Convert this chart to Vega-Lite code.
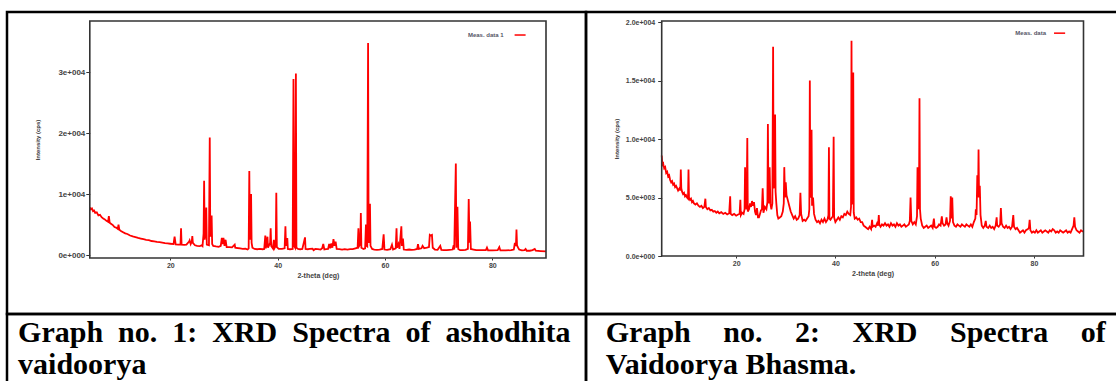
{
  "$schema": "https://vega.github.io/schema/vega-lite/v6.json",
  "background": "white",
  "padding": {"left": 5, "top": 10, "right": 0, "bottom": 0},
  "bounds": "flush",
  "align": "each",
  "spacing": 0,
  "columns": 2,
  "datasets": {
    "raw": [
      {"t":5.0,"i":7800},{"t":5.2,"i":7500},{"t":5.4,"i":7650},{"t":5.6,"i":7200},{"t":5.8,"i":7300},{"t":6.0,"i":6900},{"t":6.3,"i":7000},{"t":6.6,"i":6500},{"t":6.9,"i":6600},{"t":7.2,"i":6200},{"t":7.5,"i":6000},{"t":7.8,"i":5850},{"t":8.1,"i":5600},{"t":8.4,"i":5450},{"t":8.55,"i":6400},{"t":8.7,"i":5300},{"t":9.0,"i":5100},{"t":9.3,"i":4900},{"t":9.6,"i":4600},{"t":9.9,"i":4500},{"t":10.2,"i":4300},{"t":10.35,"i":5000},{"t":10.5,"i":4150},{"t":10.8,"i":3950},{"t":11.2,"i":3750},{"t":11.6,"i":3550},{"t":12.0,"i":3450},{"t":12.5,"i":3200},{"t":13.0,"i":3050},{"t":13.5,"i":2950},{"t":14.0,"i":2800},{"t":14.5,"i":2700},{"t":15.0,"i":2600},{"t":15.5,"i":2500},{"t":16.0,"i":2450},{"t":16.5,"i":2300},{"t":17.0,"i":2250},{"t":17.5,"i":2150},{"t":18.0,"i":2100},{"t":18.5,"i":2050},{"t":19.0,"i":1950},{"t":19.5,"i":1900},{"t":20.0,"i":1850},{"t":20.6,"i":1800},{"t":20.8,"i":3000},{"t":21.0,"i":1750},{"t":21.5,"i":1700},{"t":21.9,"i":1750},{"t":22.0,"i":4400},{"t":22.1,"i":1700},{"t":22.6,"i":1650},{"t":23.0,"i":1700},{"t":23.5,"i":2200},{"t":23.6,"i":2400},{"t":23.8,"i":1800},{"t":24.0,"i":2200},{"t":24.1,"i":3100},{"t":24.2,"i":2000},{"t":24.6,"i":1600},{"t":25.0,"i":1500},{"t":25.5,"i":1450},{"t":25.8,"i":1600},{"t":26.0,"i":1450},{"t":26.2,"i":3500},{"t":26.3,"i":12200},{"t":26.4,"i":2500},{"t":26.6,"i":4200},{"t":26.7,"i":7800},{"t":26.8,"i":1700},{"t":27.2,"i":1600},{"t":27.35,"i":19300},{"t":27.45,"i":3000},{"t":27.6,"i":4000},{"t":27.7,"i":6500},{"t":27.8,"i":1800},{"t":28.0,"i":1500},{"t":28.5,"i":1400},{"t":29.0,"i":1350},{"t":29.4,"i":1500},{"t":29.6,"i":2800},{"t":29.7,"i":1800},{"t":29.9,"i":2800},{"t":30.1,"i":1500},{"t":30.3,"i":2500},{"t":30.5,"i":1300},{"t":31.0,"i":1300},{"t":31.5,"i":1250},{"t":32.0,"i":1700},{"t":32.1,"i":1200},{"t":32.5,"i":1150},{"t":33.0,"i":1100},{"t":33.5,"i":1000},{"t":34.0,"i":1050},{"t":34.4,"i":900},{"t":34.6,"i":1100},{"t":34.72,"i":13800},{"t":34.82,"i":2500},{"t":34.95,"i":5000},{"t":35.05,"i":10000},{"t":35.15,"i":2000},{"t":35.3,"i":1200},{"t":35.7,"i":1000},{"t":36.2,"i":950},{"t":36.7,"i":1000},{"t":37.2,"i":950},{"t":37.5,"i":1000},{"t":37.7,"i":3200},{"t":37.8,"i":1100},{"t":38.1,"i":3000},{"t":38.2,"i":1200},{"t":38.6,"i":2000},{"t":38.7,"i":4400},{"t":38.8,"i":1500},{"t":39.1,"i":1100},{"t":39.3,"i":2500},{"t":39.4,"i":1100},{"t":39.65,"i":1500},{"t":39.75,"i":10200},{"t":39.85,"i":1300},{"t":40.2,"i":1000},{"t":40.8,"i":1000},{"t":41.3,"i":1100},{"t":41.45,"i":4700},{"t":41.55,"i":1500},{"t":41.8,"i":2800},{"t":41.9,"i":1000},{"t":42.3,"i":950},{"t":42.8,"i":1000},{"t":42.95,"i":28900},{"t":43.05,"i":1500},{"t":43.25,"i":1200},{"t":43.4,"i":29800},{"t":43.5,"i":1200},{"t":43.8,"i":1000},{"t":44.2,"i":950},{"t":44.6,"i":1000},{"t":45.1,"i":2900},{"t":45.2,"i":1000},{"t":45.6,"i":950},{"t":46.0,"i":1000},{"t":46.5,"i":1050},{"t":46.7,"i":800},{"t":47.0,"i":1000},{"t":47.5,"i":950},{"t":48.0,"i":900},{"t":48.3,"i":1100},{"t":48.5,"i":1800},{"t":48.7,"i":900},{"t":49.0,"i":950},{"t":49.4,"i":1000},{"t":49.6,"i":1800},{"t":49.8,"i":1100},{"t":50.0,"i":1900},{"t":50.2,"i":1200},{"t":50.4,"i":2600},{"t":50.6,"i":1500},{"t":50.8,"i":2200},{"t":51.0,"i":1000},{"t":51.5,"i":950},{"t":52.0,"i":900},{"t":52.5,"i":950},{"t":53.0,"i":900},{"t":53.5,"i":950},{"t":54.0,"i":950},{"t":54.5,"i":1100},{"t":54.9,"i":1200},{"t":55.05,"i":4400},{"t":55.2,"i":1500},{"t":55.4,"i":1800},{"t":55.5,"i":6900},{"t":55.6,"i":1200},{"t":56.0,"i":1000},{"t":56.3,"i":1100},{"t":56.45,"i":5000},{"t":56.55,"i":1500},{"t":56.7,"i":1400},{"t":56.85,"i":34800},{"t":56.95,"i":2000},{"t":57.1,"i":3000},{"t":57.2,"i":8400},{"t":57.3,"i":1500},{"t":57.6,"i":1000},{"t":58.0,"i":900},{"t":58.5,"i":850},{"t":59.0,"i":900},{"t":59.5,"i":1000},{"t":59.75,"i":3400},{"t":59.9,"i":900},{"t":60.4,"i":850},{"t":61.0,"i":950},{"t":61.3,"i":1700},{"t":61.5,"i":900},{"t":62.0,"i":1100},{"t":62.15,"i":4400},{"t":62.25,"i":1200},{"t":62.5,"i":1800},{"t":62.7,"i":1000},{"t":63.05,"i":4700},{"t":63.15,"i":1500},{"t":63.35,"i":2700},{"t":63.5,"i":900},{"t":64.0,"i":850},{"t":64.5,"i":900},{"t":65.0,"i":850},{"t":65.5,"i":900},{"t":66.0,"i":1000},{"t":66.15,"i":1800},{"t":66.3,"i":1000},{"t":66.8,"i":1100},{"t":67.0,"i":1500},{"t":67.3,"i":1100},{"t":67.8,"i":1200},{"t":68.2,"i":1300},{"t":68.35,"i":3300},{"t":68.5,"i":3200},{"t":68.75,"i":3300},{"t":68.9,"i":1200},{"t":69.3,"i":900},{"t":69.8,"i":850},{"t":70.3,"i":1500},{"t":70.5,"i":850},{"t":71.0,"i":800},{"t":71.5,"i":800},{"t":72.0,"i":850},{"t":72.6,"i":900},{"t":72.8,"i":1600},{"t":72.9,"i":900},{"t":73.2,"i":15000},{"t":73.3,"i":1200},{"t":73.5,"i":7900},{"t":73.65,"i":1000},{"t":74.0,"i":800},{"t":74.5,"i":800},{"t":75.0,"i":850},{"t":75.45,"i":1000},{"t":75.6,"i":9200},{"t":75.75,"i":2000},{"t":75.85,"i":5500},{"t":76.0,"i":1000},{"t":76.5,"i":900},{"t":77.0,"i":800},{"t":77.5,"i":800},{"t":78.0,"i":800},{"t":78.8,"i":800},{"t":79.0,"i":1200},{"t":79.2,"i":750},{"t":80.0,"i":750},{"t":81.0,"i":800},{"t":81.3,"i":1300},{"t":81.5,"i":750},{"t":82.5,"i":750},{"t":83.5,"i":800},{"t":84.0,"i":900},{"t":84.2,"i":2000},{"t":84.4,"i":1500},{"t":84.5,"i":4200},{"t":84.6,"i":1600},{"t":84.8,"i":1200},{"t":85.0,"i":900},{"t":85.5,"i":750},{"t":86.0,"i":800},{"t":86.2,"i":1000},{"t":86.4,"i":700},{"t":87.0,"i":700},{"t":87.5,"i":800},{"t":87.9,"i":1000},{"t":88.1,"i":700},{"t":89.0,"i":650},{"t":90.0,"i":600}
    ],
    "bhasma": [
      {"t":5.0,"i":8600},{"t":5.15,"i":7800},{"t":5.3,"i":7900},{"t":5.5,"i":7500},{"t":5.7,"i":7600},{"t":5.9,"i":7100},{"t":6.1,"i":7200},{"t":6.3,"i":6800},{"t":6.5,"i":6900},{"t":6.7,"i":6500},{"t":6.9,"i":6300},{"t":7.1,"i":6400},{"t":7.3,"i":6100},{"t":7.5,"i":6200},{"t":7.7,"i":5900},{"t":7.9,"i":6000},{"t":8.1,"i":5800},{"t":8.3,"i":5600},{"t":8.6,"i":5800},{"t":8.75,"i":5600},{"t":8.85,"i":7400},{"t":8.95,"i":5800},{"t":9.1,"i":5500},{"t":9.3,"i":5300},{"t":9.5,"i":5400},{"t":9.7,"i":5100},{"t":9.9,"i":5200},{"t":10.1,"i":5000},{"t":10.3,"i":4900},{"t":10.4,"i":7400},{"t":10.5,"i":5000},{"t":10.7,"i":4800},{"t":10.9,"i":4900},{"t":11.1,"i":4600},{"t":11.3,"i":4700},{"t":11.5,"i":4500},{"t":11.8,"i":4400},{"t":12.1,"i":4500},{"t":12.4,"i":4300},{"t":12.7,"i":4200},{"t":13.0,"i":4300},{"t":13.3,"i":4100},{"t":13.6,"i":4200},{"t":13.8,"i":4900},{"t":13.9,"i":4200},{"t":14.2,"i":4000},{"t":14.5,"i":4100},{"t":14.8,"i":3900},{"t":15.1,"i":3950},{"t":15.4,"i":3800},{"t":15.7,"i":3850},{"t":16.0,"i":3700},{"t":16.3,"i":3800},{"t":16.6,"i":3650},{"t":17.0,"i":3750},{"t":17.4,"i":3600},{"t":17.8,"i":3700},{"t":18.2,"i":3550},{"t":18.6,"i":3650},{"t":18.8,"i":5100},{"t":18.9,"i":3600},{"t":19.2,"i":3500},{"t":19.6,"i":3600},{"t":20.0,"i":3450},{"t":20.4,"i":3550},{"t":20.7,"i":3600},{"t":20.85,"i":4800},{"t":20.95,"i":3500},{"t":21.2,"i":3700},{"t":21.5,"i":3600},{"t":21.7,"i":4000},{"t":21.8,"i":7600},{"t":21.9,"i":4500},{"t":22.1,"i":4000},{"t":22.25,"i":10100},{"t":22.35,"i":3800},{"t":22.6,"i":4000},{"t":22.8,"i":4500},{"t":23.0,"i":4200},{"t":23.2,"i":4700},{"t":23.4,"i":4300},{"t":23.6,"i":4600},{"t":23.8,"i":3800},{"t":24.0,"i":3500},{"t":24.2,"i":4100},{"t":24.4,"i":3300},{"t":24.6,"i":3300},{"t":24.8,"i":3600},{"t":25.0,"i":3900},{"t":25.2,"i":4000},{"t":25.35,"i":5800},{"t":25.5,"i":3700},{"t":25.8,"i":4200},{"t":26.1,"i":4000},{"t":26.3,"i":4600},{"t":26.4,"i":11300},{"t":26.5,"i":5500},{"t":26.65,"i":4500},{"t":26.75,"i":7600},{"t":26.9,"i":4500},{"t":27.1,"i":4000},{"t":27.3,"i":4500},{"t":27.45,"i":17900},{"t":27.55,"i":5800},{"t":27.75,"i":6000},{"t":27.85,"i":12100},{"t":27.95,"i":5500},{"t":28.1,"i":4500},{"t":28.3,"i":3500},{"t":28.5,"i":3200},{"t":28.8,"i":3300},{"t":29.1,"i":3400},{"t":29.4,"i":3800},{"t":29.6,"i":4500},{"t":29.7,"i":7600},{"t":29.85,"i":5000},{"t":30.0,"i":6300},{"t":30.15,"i":5200},{"t":30.4,"i":4800},{"t":30.7,"i":4300},{"t":31.0,"i":3800},{"t":31.3,"i":3500},{"t":31.6,"i":3200},{"t":31.9,"i":3400},{"t":32.2,"i":3100},{"t":32.5,"i":3200},{"t":32.8,"i":3500},{"t":32.95,"i":5400},{"t":33.1,"i":3600},{"t":33.4,"i":3000},{"t":33.7,"i":3100},{"t":34.0,"i":3000},{"t":34.3,"i":3200},{"t":34.6,"i":3400},{"t":34.75,"i":4000},{"t":34.85,"i":15000},{"t":34.95,"i":5500},{"t":35.1,"i":5000},{"t":35.2,"i":10800},{"t":35.3,"i":4300},{"t":35.5,"i":5000},{"t":35.7,"i":3600},{"t":36.0,"i":3100},{"t":36.3,"i":2900},{"t":36.6,"i":3000},{"t":36.9,"i":2800},{"t":37.2,"i":3100},{"t":37.5,"i":2900},{"t":37.8,"i":3200},{"t":38.1,"i":2900},{"t":38.4,"i":3100},{"t":38.6,"i":3500},{"t":38.7,"i":9300},{"t":38.8,"i":3200},{"t":39.0,"i":3100},{"t":39.3,"i":3300},{"t":39.5,"i":3400},{"t":39.65,"i":10200},{"t":39.75,"i":3300},{"t":40.0,"i":2900},{"t":40.3,"i":3100},{"t":40.6,"i":3300},{"t":40.9,"i":3100},{"t":41.2,"i":3400},{"t":41.5,"i":3300},{"t":41.8,"i":3600},{"t":42.1,"i":3500},{"t":42.4,"i":3800},{"t":42.7,"i":3600},{"t":43.0,"i":3500},{"t":43.15,"i":4200},{"t":43.25,"i":18400},{"t":43.35,"i":4500},{"t":43.5,"i":4600},{"t":43.6,"i":15700},{"t":43.7,"i":3700},{"t":43.9,"i":3200},{"t":44.2,"i":3300},{"t":44.5,"i":3100},{"t":44.8,"i":3200},{"t":45.1,"i":2900},{"t":45.4,"i":2900},{"t":45.7,"i":2600},{"t":46.0,"i":2500},{"t":46.3,"i":2400},{"t":46.6,"i":2300},{"t":46.9,"i":2500},{"t":47.2,"i":2300},{"t":47.4,"i":3100},{"t":47.5,"i":2500},{"t":47.8,"i":2600},{"t":48.1,"i":2500},{"t":48.4,"i":2800},{"t":48.6,"i":2600},{"t":48.75,"i":3500},{"t":48.85,"i":2700},{"t":49.1,"i":2500},{"t":49.4,"i":2700},{"t":49.7,"i":2600},{"t":50.0,"i":2800},{"t":50.3,"i":2600},{"t":50.6,"i":2700},{"t":50.9,"i":2500},{"t":51.2,"i":2800},{"t":51.5,"i":2600},{"t":51.8,"i":2700},{"t":52.1,"i":2500},{"t":52.4,"i":2800},{"t":52.7,"i":2600},{"t":53.0,"i":2700},{"t":53.3,"i":2500},{"t":53.6,"i":2600},{"t":53.9,"i":2700},{"t":54.2,"i":2500},{"t":54.5,"i":2600},{"t":54.8,"i":2700},{"t":55.0,"i":3000},{"t":55.15,"i":5000},{"t":55.3,"i":3000},{"t":55.6,"i":2700},{"t":55.9,"i":2900},{"t":56.2,"i":2700},{"t":56.45,"i":3400},{"t":56.55,"i":7600},{"t":56.7,"i":4000},{"t":56.85,"i":5000},{"t":56.95,"i":13500},{"t":57.05,"i":4000},{"t":57.2,"i":3200},{"t":57.5,"i":2600},{"t":57.8,"i":2400},{"t":58.1,"i":2500},{"t":58.4,"i":2600},{"t":58.7,"i":2400},{"t":59.0,"i":2500},{"t":59.3,"i":2600},{"t":59.6,"i":2400},{"t":59.85,"i":3200},{"t":60.0,"i":2500},{"t":60.3,"i":2400},{"t":60.6,"i":2500},{"t":60.9,"i":2700},{"t":61.2,"i":2600},{"t":61.45,"i":3400},{"t":61.6,"i":2800},{"t":61.9,"i":2600},{"t":62.2,"i":2700},{"t":62.4,"i":3300},{"t":62.55,"i":2800},{"t":62.8,"i":2600},{"t":63.1,"i":3000},{"t":63.25,"i":5100},{"t":63.4,"i":3200},{"t":63.55,"i":5000},{"t":63.7,"i":2900},{"t":64.0,"i":2600},{"t":64.3,"i":2500},{"t":64.6,"i":2700},{"t":64.9,"i":2600},{"t":65.2,"i":2500},{"t":65.5,"i":2700},{"t":65.8,"i":2600},{"t":66.1,"i":2500},{"t":66.4,"i":2700},{"t":66.7,"i":2600},{"t":67.0,"i":2500},{"t":67.3,"i":2700},{"t":67.6,"i":2500},{"t":67.9,"i":2900},{"t":68.2,"i":3200},{"t":68.3,"i":4000},{"t":68.45,"i":3500},{"t":68.6,"i":6900},{"t":68.75,"i":5000},{"t":68.85,"i":9100},{"t":68.95,"i":5000},{"t":69.1,"i":6000},{"t":69.25,"i":3500},{"t":69.5,"i":2600},{"t":69.8,"i":2400},{"t":70.1,"i":2600},{"t":70.3,"i":3000},{"t":70.45,"i":2500},{"t":70.8,"i":2400},{"t":71.1,"i":2600},{"t":71.4,"i":2400},{"t":71.7,"i":2500},{"t":72.0,"i":2300},{"t":72.3,"i":2600},{"t":72.5,"i":3300},{"t":72.6,"i":2600},{"t":72.9,"i":2500},{"t":73.2,"i":2700},{"t":73.35,"i":4100},{"t":73.5,"i":2800},{"t":73.8,"i":2500},{"t":74.1,"i":2400},{"t":74.4,"i":2600},{"t":74.7,"i":2400},{"t":75.0,"i":2500},{"t":75.3,"i":2300},{"t":75.6,"i":2500},{"t":75.85,"i":3500},{"t":76.0,"i":2500},{"t":76.3,"i":2300},{"t":76.6,"i":2400},{"t":76.9,"i":2200},{"t":77.2,"i":2000},{"t":77.5,"i":2100},{"t":77.8,"i":2200},{"t":78.1,"i":2000},{"t":78.4,"i":2200},{"t":78.8,"i":2300},{"t":79.0,"i":2400},{"t":79.15,"i":3100},{"t":79.3,"i":2200},{"t":79.6,"i":2000},{"t":79.9,"i":2100},{"t":80.2,"i":2000},{"t":80.5,"i":2200},{"t":80.8,"i":2000},{"t":81.1,"i":2100},{"t":81.4,"i":2200},{"t":81.7,"i":2000},{"t":82.0,"i":2100},{"t":82.3,"i":2200},{"t":82.6,"i":2100},{"t":82.9,"i":2000},{"t":83.2,"i":2200},{"t":83.5,"i":2100},{"t":83.8,"i":2300},{"t":84.1,"i":2200},{"t":84.4,"i":2000},{"t":84.7,"i":2100},{"t":85.0,"i":2000},{"t":85.3,"i":2200},{"t":85.6,"i":2100},{"t":85.9,"i":2000},{"t":86.2,"i":2100},{"t":86.5,"i":2200},{"t":86.8,"i":2000},{"t":87.1,"i":2100},{"t":87.4,"i":2000},{"t":87.7,"i":2300},{"t":88.0,"i":2600},{"t":88.15,"i":3300},{"t":88.3,"i":2500},{"t":88.6,"i":2200},{"t":88.9,"i":2100},{"t":89.2,"i":2000},{"t":89.5,"i":2200},{"t":89.8,"i":2100},{"t":90.0,"i":2100}
    ]
  },
  "concat": [
    {
      "width": 579,
      "height": 302,
      "layer": [
        {
          "data": {"name": "raw"},
          "mark": {"type": "line", "color": "#ff0000", "strokeWidth": 1.8, "strokeJoin": "miter"},
          "encoding": {
            "x": {"field": "t", "type": "quantitative",
              "scale": {"domain": [5, 90], "range": [82.8, 539], "nice": false, "zero": false},
              "axis": {"values": [20, 40, 60, 80], "title": "2-theta (deg)", "offset": -56, "domain": false, "grid": false,
                "tickSize": 2, "tickColor": "#333", "labelPadding": 1, "labelFontSize": 7, "labelFont": "Liberation Sans", "labelFontWeight": "bold", "labelColor": "#444",
                "titleFontSize": 7, "titleFont": "Liberation Sans", "titleFontWeight": "bold", "titleColor": "#444", "titlePadding": 3}},
            "y": {"field": "i", "type": "quantitative",
              "scale": {"domain": [-490, 38400], "range": [246, 9], "nice": false, "zero": false},
              "axis": {"values": [0, 10000, 20000, 30000], "labelExpr": "datum.value == 0 ? '0e+000' : format(datum.value / 10000, 'd') + 'e+004'",
                "title": "Intensity (cps)", "offset": -82.8, "domain": false, "grid": false,
                "tickSize": 4, "tickColor": "#333", "labelPadding": 1, "labelFontSize": 8, "labelFont": "Liberation Sans", "labelFontWeight": "bold", "labelColor": "#444",
                "titleFontSize": 6, "titleFont": "Liberation Sans", "titleFontWeight": "bold", "titleColor": "#333", "titlePadding": 17}}
          }
        },
        {
          "data": {"values": [{}]},
          "mark": {"type": "rect", "fill": null, "stroke": "#333", "strokeWidth": 1.6},
          "encoding": {
            "x": {"datum": 5, "type": "quantitative"},
            "x2": {"datum": 90},
            "y": {"datum": -490, "type": "quantitative"},
            "y2": {"datum": 38400}
          }
        },
        {
          "data": {"values": [{"label": "Meas. data 1"}]},
          "mark": {"type": "text", "align": "right", "baseline": "middle", "fontSize": 6, "font": "Liberation Sans", "fontWeight": "bold", "color": "#556"},
          "encoding": {
            "x": {"datum": 82.1, "type": "quantitative"},
            "y": {"datum": 36100, "type": "quantitative"},
            "text": {"field": "label"}
          }
        },
        {
          "data": {"values": [{}]},
          "mark": {"type": "rule", "color": "#ff0000", "strokeWidth": 1.5},
          "encoding": {
            "x": {"datum": 84.15, "type": "quantitative"},
            "x2": {"datum": 86.2},
            "y": {"datum": 36100, "type": "quantitative"}
          }
        }
      ]
    },
    {
      "width": 540,
      "height": 302,
      "layer": [
        {
          "data": {"name": "bhasma"},
          "mark": {"type": "line", "color": "#ff0000", "strokeWidth": 1.8, "strokeJoin": "miter"},
          "encoding": {
            "x": {"field": "t", "type": "quantitative",
              "scale": {"domain": [5, 90], "range": [75.7, 497.5], "nice": false, "zero": false},
              "axis": {"values": [20, 40, 60, 80], "title": "2-theta (deg)", "offset": -58, "domain": false, "grid": false,
                "tickSize": 2, "tickColor": "#333", "labelPadding": 1, "labelFontSize": 7, "labelFont": "Liberation Sans", "labelFontWeight": "bold", "labelColor": "#444",
                "titleFontSize": 7, "titleFont": "Liberation Sans", "titleFontWeight": "bold", "titleColor": "#444", "titlePadding": 3}},
            "y": {"field": "i", "type": "quantitative",
              "scale": {"domain": [0, 20100], "range": [244, 9], "nice": false, "zero": false},
              "axis": {"values": [0, 5000, 10000, 15000, 20000],
                "labelExpr": "datum.value == 0 ? '0.0e+000' : (datum.value < 10000 ? format(datum.value / 1000, '.1f') + 'e+003' : format(datum.value / 10000, '.1f') + 'e+004')",
                "title": "Intensity (cps)", "offset": -75.7, "domain": false, "grid": false,
                "tickSize": 4, "tickColor": "#333", "labelPadding": 3, "labelFontSize": 7, "labelFont": "Liberation Sans", "labelFontWeight": "bold", "labelColor": "#444",
                "titleFontSize": 6, "titleFont": "Liberation Sans", "titleFontWeight": "bold", "titleColor": "#333", "titlePadding": 6}}
          }
        },
        {
          "data": {"values": [{}]},
          "mark": {"type": "rect", "fill": null, "stroke": "#333", "strokeWidth": 1.6},
          "encoding": {
            "x": {"datum": 5, "type": "quantitative"},
            "x2": {"datum": 90},
            "y": {"datum": 0, "type": "quantitative"},
            "y2": {"datum": 20100}
          }
        },
        {
          "data": {"values": [{"label": "Meas. data"}]},
          "mark": {"type": "text", "align": "right", "baseline": "middle", "fontSize": 6, "font": "Liberation Sans", "fontWeight": "bold", "color": "#556"},
          "encoding": {
            "x": {"datum": 82.45, "type": "quantitative"},
            "y": {"datum": 19060, "type": "quantitative"},
            "text": {"field": "label"}
          }
        },
        {
          "data": {"values": [{}]},
          "mark": {"type": "rule", "color": "#ff0000", "strokeWidth": 1.5},
          "encoding": {
            "x": {"datum": 84.06, "type": "quantitative"},
            "x2": {"datum": 86.3},
            "y": {"datum": 19060, "type": "quantitative"}
          }
        }
      ]
    },
    {
      "width": 579,
      "height": 80,
      "data": {"values": [
        {"line": 1, "text": "Graph\u00a0 no.\u00a0 1:\u00a0 XRD\u00a0 Spectra\u00a0 of\u00a0 ashodhita"},
        {"line": 2, "text": "vaidoorya"}
      ]},
      "mark": {"type": "text", "align": "left", "baseline": "alphabetic", "font": "Liberation Serif", "fontWeight": "bold", "fontSize": 30, "color": "black"},
      "encoding": {
        "x": {"datum": 0, "type": "quantitative", "scale": {"domain": [-0.0195, 1]}, "axis": null},
        "y": {"field": "line", "type": "quantitative", "scale": {"domain": [0.125, 2.625], "reverse": true, "nice": false, "zero": false}, "axis": null},
        "text": {"field": "text"}
      }
    },
    {
      "width": 540,
      "height": 80,
      "data": {"values": [
        {"line": 1, "text": "Graph\u00a0\u00a0\u00a0\u00a0\u200ano.\u00a0\u00a0\u00a0\u00a0\u200a2:\u00a0\u00a0\u00a0\u00a0\u200aXRD\u00a0\u00a0\u00a0\u00a0\u200aSpectra\u00a0\u00a0\u00a0\u00a0\u200aof"},
        {"line": 2, "text": "Vaidoorya Bhasma."}
      ]},
      "mark": {"type": "text", "align": "left", "baseline": "alphabetic", "font": "Liberation Serif", "fontWeight": "bold", "fontSize": 30, "color": "black"},
      "encoding": {
        "x": {"datum": 0, "type": "quantitative", "scale": {"domain": [-0.0380, 1]}, "axis": null},
        "y": {"field": "line", "type": "quantitative", "scale": {"domain": [0.125, 2.625], "reverse": true, "nice": false, "zero": false}, "axis": null},
        "text": {"field": "text"}
      }
    }
  ],
  "config": {
    "view": {"stroke": "black", "strokeWidth": 2.5},
    "axis": {"grid": false}
  }
}
